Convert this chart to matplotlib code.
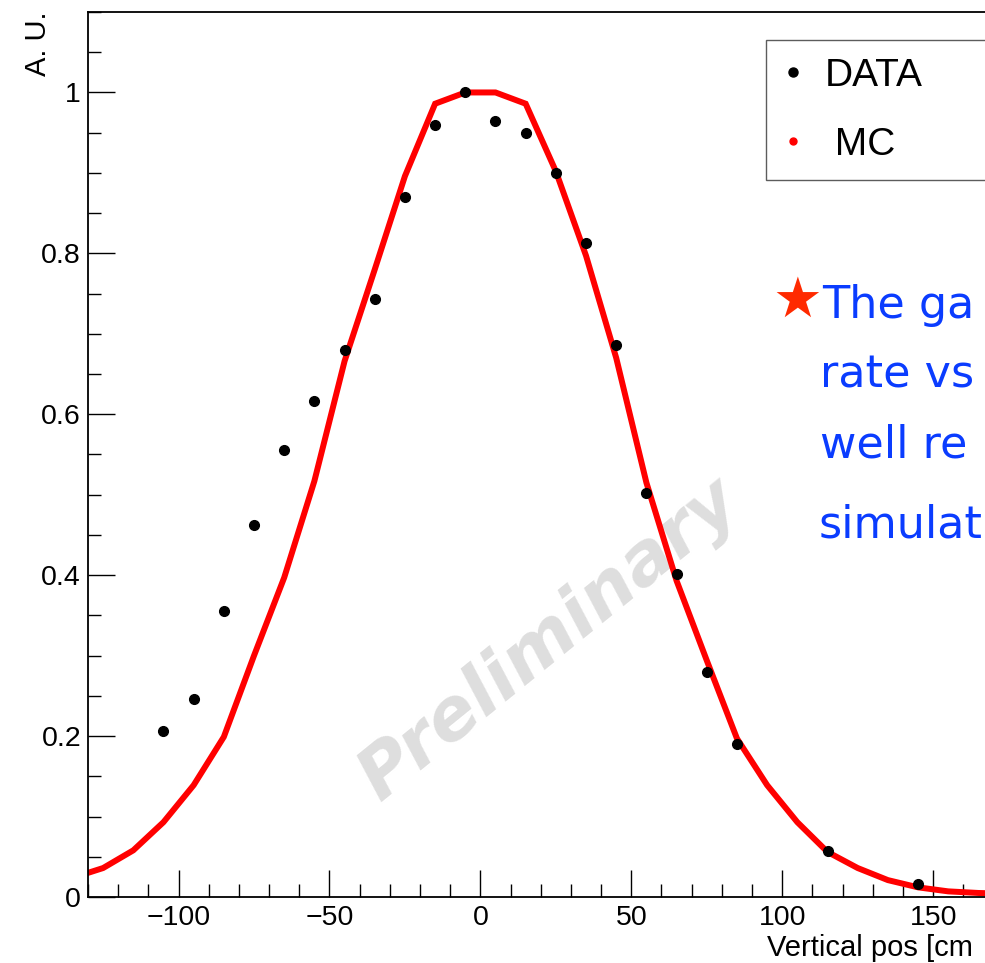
import matplotlib
matplotlib.use("Agg")
import matplotlib.pyplot as plt
from matplotlib.lines import Line2D
from matplotlib.ticker import FixedLocator, MultipleLocator

# measured points (DATA) and simulation curve (MC)
data_x = [-105, -95, -85, -75, -65, -55, -45, -35, -25, -15, -5, 5, 15, 25,
          35, 45, 55, 65, 75, 85, 115, 145]
data_y = [0.206, 0.246, 0.355, 0.462, 0.555, 0.617, 0.680, 0.743, 0.870,
          0.960, 1.000, 0.964, 0.950, 0.900, 0.813, 0.686, 0.502, 0.402,
          0.280, 0.190, 0.057, 0.016]

mc_x = [-135, -125, -115, -105, -95, -85, -75, -65, -55, -45, -35, -25, -15,
        -5, 5, 15, 25, 35, 45, 55, 65, 75, 85, 95, 105, 115, 125, 135, 145,
        155, 165, 175]
mc_y = [0.024, 0.036, 0.058, 0.093, 0.139, 0.199, 0.300, 0.397, 0.517, 0.666,
        0.780, 0.896, 0.986, 1.000, 1.000, 0.986, 0.902, 0.797, 0.670, 0.515,
        0.393, 0.294, 0.197, 0.139, 0.093, 0.056, 0.036, 0.021, 0.012, 0.007,
        0.005, 0.004]

x_major = [-100, -50, 0, 50, 100, 150]
# the slide crops the note on the right, only this part is visible
note_lines = ["The ga", "rate vs", "well re", "simulat"]
x_title = "Vertical pos [cm"

plt.rcParams["font.family"] = ["Liberation Sans", "DejaVu Sans"]

W, H = 985, 963
fig = plt.figure(figsize=(W / 100, H / 100), dpi=100)
# axes frame runs past the right edge of the picture (cropped slide)
ax = fig.add_axes([88 / W, 66 / H, 984 / W, 885 / H])

ax.plot(mc_x, mc_y, color="#ff0000", lw=4.3, solid_joinstyle="miter", zorder=2)
ax.plot(data_x, data_y, "o", color="black", ms=7, zorder=3)

ax.set_xlim(-130, 196)
ax.set_ylim(0, 1.1)

ax.xaxis.set_major_locator(FixedLocator(x_major))
ax.xaxis.set_minor_locator(MultipleLocator(10))
ax.yaxis.set_major_locator(MultipleLocator(0.2))
ax.yaxis.set_minor_locator(MultipleLocator(0.05))
ax.yaxis.set_major_formatter(lambda v, p: f"{v:g}")
ax.tick_params(which="both", direction="in", top=False, right=False, width=1.0,
               labelsize=20.5)
ax.tick_params(which="major", length=19.5)
ax.tick_params(which="minor", length=9.5)
ax.tick_params(axis="x", pad=6)
ax.tick_params(axis="y", pad=5)
for s in ax.spines.values():
    s.set_linewidth(1.3)

# watermark
ax.text(23, 0.32, "Preliminary", rotation=39, ha="center", va="center",
        fontsize=52, fontweight="bold", style="italic", color="#dedede",
        family="DejaVu Sans", zorder=1)

# legend, box spilling over the right edge
handles = [
    Line2D([], [], ls="", marker="o", color="black", ms=6.5),
    Line2D([], [], ls="", marker="o", color="#ff0000", ms=5),
]
leg = ax.legend(handles, ["DATA", " MC"], loc="upper left",
                bbox_to_anchor=(766 / W, 1 - 40 / H - 0.01, 330 / W, 0.01),
                bbox_transform=fig.transFigure, mode="expand", fontsize=28,
                frameon=True, fancybox=False, handlelength=0.5,
                handletextpad=0.55, borderpad=0.45, labelspacing=0.85,
                borderaxespad=0)
leg.get_frame().set_edgecolor("#333333")
leg.get_frame().set_linewidth(1.0)

# axis titles, ROOT style
fig.text(38 / W, 1 - 12 / H, "A. U.", rotation=90, ha="center", va="top",
         fontsize=21)
fig.text(767 / W, 1 - 956 / H, x_title, ha="left", va="baseline",
         fontsize=21)

# slide annotation
fig.text(797 / W, 1 - 302 / H, "\u2605", ha="center", va="center",
         fontsize=40, color="#ff2a00", family="DejaVu Sans")
baselines = [318, 387, 457, 537]
x_starts = [822, 820, 820, 819]
for txt, yb, xs in zip(note_lines, baselines, x_starts):
    fig.text(xs / W, 1 - yb / H, txt, ha="left", va="baseline", fontsize=32,
             color="#0a3cff", family="DejaVu Sans")

fig.savefig("out.png", dpi=100)
